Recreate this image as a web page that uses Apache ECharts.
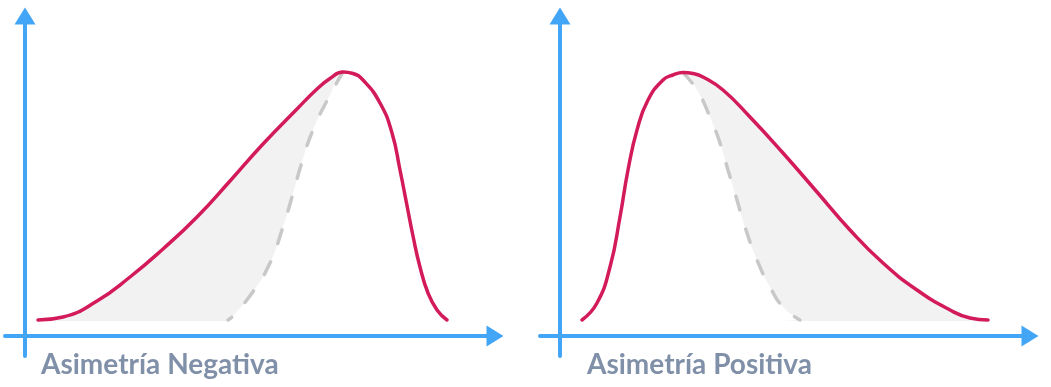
<!DOCTYPE html>
<html>
<head>
<meta charset="utf-8">
<script src="https://cdn.jsdelivr.net/npm/echarts@6/dist/echarts.min.js"></script>
<style>
html,body{margin:0;padding:0;background:#fff;}
#chart{width:1051px;height:387px;}
</style>
</head>
<body>
<div id="chart"></div>
<script>
// Data: [x, y] (x from the vertical axis, y from the horizontal axis)
const panelTitles = ['Asimetría Negativa', 'Asimetría Positiva'];
const baseLevel = 15;

const leftCurve = [[13,16],[38,19],[72,35],[105,59],[138,87],[172,119],[205,155],[238,192],[272,227],[292,247],[305,257.5],[318,264],[328,262.5],[338,256],[355,233],[367,203],[375,166],[381.5,133],[388,100],[395,69],[403,43],[412,26],[422,16]];
const leftDashed = [[318,264],[305,241],[288,206],[277,174],[267,139],[257,106],[245,73],[227,43],[207,19],[203,16]];

const rightCurve = [[22,16],[37,33],[50,69],[60,119],[68,166],[77,206],[88,236],[103,256],[113,261],[123,263.5],[133,262.5],[143,259],[163,246],[190,219],[223,183],[257,144],[290,106],[323,73],[357,46],[390,26],[410,18],[428,16]];
const rightDashed = [[123,263.5],[137,246],[150,219],[160,193],[168,166],[177,136],[185,109],[197,76],[210,49],[223,29],[240,16]];

const RED = '#D31A5B', BLUE = '#42A5F5', GREY_FILL = '#F2F2F2', DASH = '#C8C8C8', TEXT = '#8090A8';

function peakIndex(c){ let k=0; c.forEach((p,i)=>{ if(p[1]>c[k][1]) k=i; }); return k; }

// mask: white area everywhere under the curve except the grey band between curve and dashed line
function buildMask(curve, dashed, negative){
  const k = peakIndex(curve);
  const d = dashed.slice().sort((a,b)=>a[0]-b[0]);
  if (negative) return d.concat(curve.slice(k+1));
  return curve.slice(0,k).concat(d);
}

function axisPair(idx){
  const common = {
    axisLine:{show:true,onZero:true,symbol:['none','triangle'],symbolSize:[21,17],lineStyle:{color:BLUE,width:4}},
    axisTick:{show:false},axisLabel:{show:false},splitLine:{show:false}
  };
  return {
    x: Object.assign({type:'value',gridIndex:idx,min:-20,max:470}, common),
    y: Object.assign({type:'value',gridIndex:idx,min:-20,max:320}, common)
  };
}

const a0 = axisPair(0), a1 = axisPair(1);

function panelSeries(idx, curve, dashed, negative){
  return [
    {type:'line',xAxisIndex:idx,yAxisIndex:idx,data:curve,smooth:0.5,symbol:'none',z:1,
      lineStyle:{width:0},areaStyle:{color:GREY_FILL,opacity:1,origin:baseLevel},silent:true},
    {type:'line',xAxisIndex:idx,yAxisIndex:idx,data:buildMask(curve,dashed,negative),smooth:0.5,symbol:'none',z:2,
      lineStyle:{width:0},areaStyle:{color:'#FFFFFF',opacity:1,origin:baseLevel},silent:true},
    {type:'line',xAxisIndex:idx,yAxisIndex:idx,data:dashed,smooth:0.5,symbol:'none',z:3,
      lineStyle:{color:DASH,width:3.5,type:[14,20],cap:'round'},silent:true},
    {type:'line',xAxisIndex:idx,yAxisIndex:idx,data:curve,smooth:0.5,symbol:'none',z:4,
      lineStyle:{color:RED,width:3.5,cap:'round'},silent:true}
  ];
}

const chart = echarts.init(document.getElementById('chart'), null, {renderer:'canvas'});
const titleStyle = {fontFamily:'Lato',fontWeight:'bold',fontSize:28,color:TEXT};
chart.setOption({
  backgroundColor:'#FFFFFF',
  animation:false,
  title:[
    {text:panelTitles[0],left:41,top:350.5,padding:0,textStyle:titleStyle},
    {text:panelTitles[1],left:587,top:350.5,padding:0,textStyle:titleStyle}
  ],
  grid:[
    {left:5,top:16,width:490,height:340},
    {left:540,top:16,width:490,height:340}
  ],
  xAxis:[a0.x,a1.x],
  yAxis:[a0.y,a1.y],
  series:[].concat(panelSeries(0,leftCurve,leftDashed,true), panelSeries(1,rightCurve,rightDashed,false))
});
</script>
</body>
</html>
